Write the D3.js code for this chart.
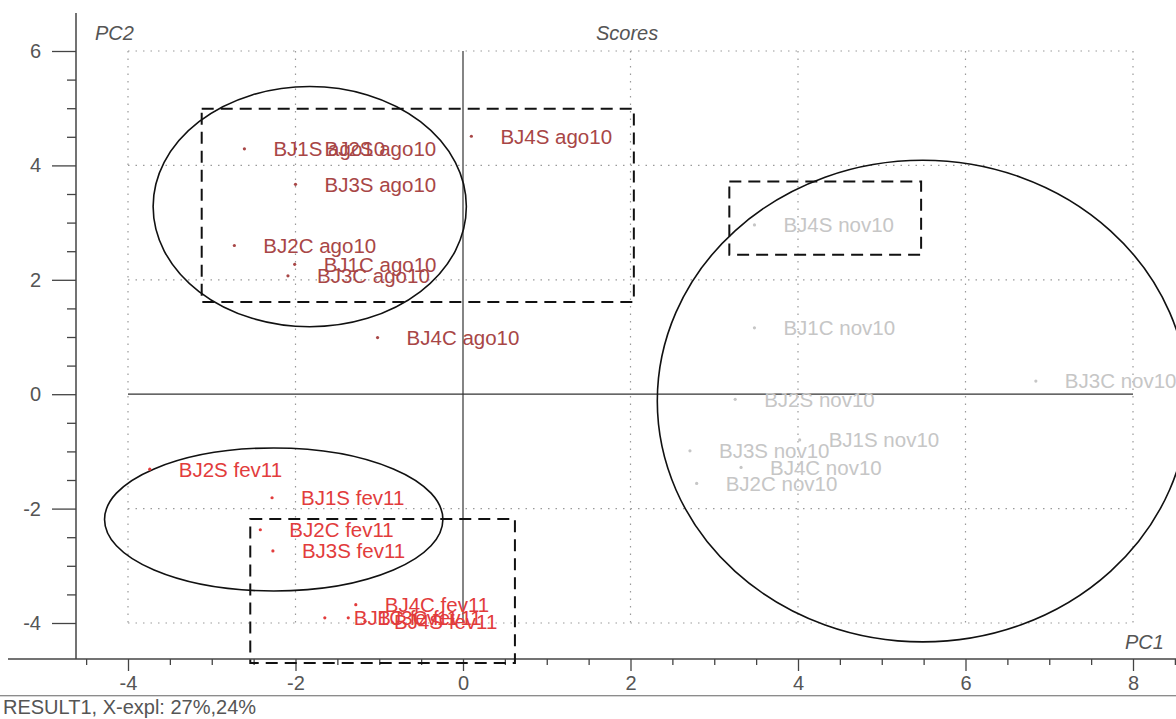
<!DOCTYPE html>
<html>
<head>
<meta charset="utf-8">
<script src="https://cdn.jsdelivr.net/npm/d3@7"></script>
<style>
  html, body { margin: 0; padding: 0; background: #fff; }
  svg { display: block; font-family: "Liberation Sans", Arial, sans-serif; }
</style>
</head>
<body>
<svg id="chart" width="1176" height="719"></svg>
<script>
// ---------------- data ----------------
const ago10Names = ["BJ1S ago10","BJ2S ago10","BJ3S ago10","BJ2C ago10","BJ1C ago10","BJ3C ago10","BJ4C ago10","BJ4S ago10"];
const ago10X     = [-2.61, -2.00, -2.00, -2.73, -2.01, -2.09, -1.02, 0.10];
const ago10Y     = [ 4.29,  4.29,  3.67,  2.60,  2.27,  2.07,  0.99, 4.51];

const nov10Names = ["BJ4S nov10","BJ1C nov10","BJ3C nov10","BJ2S nov10","BJ1S nov10","BJ3S nov10","BJ4C nov10","BJ2C nov10"];
const nov10X     = [3.48, 3.48, 6.84, 3.25, 4.02, 2.71, 3.32, 2.79];
const nov10Y     = [2.96, 1.16, 0.23, -0.09, -0.80, -0.99, -1.28, -1.56];

const fev11Names = ["BJ2S fev11","BJ1S fev11","BJ2C fev11","BJ3S fev11","BJ1C fev11","BJ3C fev11","BJ4C fev11","BJ4S fev11"];
const fev11X     = [-3.74, -2.28, -2.42, -2.27, -1.65, -1.37, -1.28, -1.17];
const fev11Y     = [-1.31, -1.81, -2.37, -2.74, -3.91, -3.91, -3.68, -3.97];

const xTickValues = [-4, -2, 0, 2, 4, 6, 8];
const yTickValues = [-4, -2, 0, 2, 4, 6];
const xGridValues = [-4, -2, 2, 4, 6, 8];
const yGridValues = [-4, -2, 2, 4, 6];

// annotation shapes (data units)
const ellipseCX = [-1.83, -2.26, 5.49];
const ellipseCY = [ 3.28, -2.19, -0.12];
const ellipseRX = [ 1.87,  2.02, 3.17];
const ellipseRY = [ 2.10,  1.25, 4.21];
const boxX0 = [-3.12, 3.18, -2.54];
const boxX1 = [ 2.04, 5.47,  0.62];
const boxY0 = [ 1.61, 2.44, -4.70];
const boxY1 = [ 4.99, 3.72, -2.18];

// ---------------- drawing ----------------
const svg = d3.select("#chart");
const x = d3.scaleLinear().domain([-4, 8]).range([128, 1133]);
const y = d3.scaleLinear().domain([-4, 6]).range([623, 51]);
const axisY = 659, axisX = 76;
const fmt = d => String(d);

// grid (dotted)
const grid = svg.append("g");
grid.selectAll("line.h").data(yGridValues).join("line")
  .attr("x1", x(-4)).attr("x2", x(8))
  .attr("y1", d => y(d)).attr("y2", d => y(d))
  .attr("stroke", "#9a9a9a").attr("stroke-width", 1.2).attr("stroke-dasharray", "1.5,6");
grid.selectAll("line.v").data(xGridValues).join("line")
  .attr("y1", y(6)).attr("y2", y(-4))
  .attr("x1", d => x(d)).attr("x2", d => x(d))
  .attr("stroke", "#9a9a9a").attr("stroke-width", 1.2).attr("stroke-dasharray", "1.5,6");

// zero lines
svg.append("line").attr("x1", x(-4)).attr("x2", x(8)).attr("y1", y(0)).attr("y2", y(0))
  .attr("stroke", "#333").attr("stroke-width", 1.2);
svg.append("line").attr("x1", x(0)).attr("x2", x(0)).attr("y1", y(6)).attr("y2", y(-4))
  .attr("stroke", "#333").attr("stroke-width", 1.2);

// axes
const yMinor = d3.range(-4, 6.01, 0.5).filter(v => Math.abs(v % 2) > 0.01);
const xMinor = d3.range(-4.5, 8.6, 0.5).filter(v => Math.abs(v % 2) > 0.01);

const gy = svg.append("g").attr("transform", `translate(${axisX},0)`)
  .call(d3.axisLeft(y).tickValues(yTickValues).tickSize(24).tickPadding(11).tickFormat(fmt));
const gyMinor = svg.append("g").attr("transform", `translate(${axisX},0)`)
  .call(d3.axisLeft(y).tickValues(yMinor).tickSize(9).tickFormat(""));
const gx = svg.append("g").attr("transform", `translate(0,${axisY})`)
  .call(d3.axisBottom(x).tickValues(xTickValues).tickSize(12).tickPadding(5).tickFormat(fmt));
const gxMinor = svg.append("g").attr("transform", `translate(0,${axisY})`)
  .call(d3.axisBottom(x).tickValues(xMinor).tickSize(6).tickFormat(""));
[gy, gyMinor, gx, gxMinor].forEach(g => {
  g.select(".domain").remove();
  g.selectAll(".tick line").attr("stroke", "#444").attr("stroke-width", 1.3);
  g.selectAll("text").attr("fill", "#555").attr("font-size", 20).attr("font-family", "Liberation Sans, Arial, sans-serif");
});
// axis lines
svg.append("line").attr("x1", axisX).attr("x2", axisX).attr("y1", 13).attr("y2", axisY)
  .attr("stroke", "#444").attr("stroke-width", 1.5);
svg.append("line").attr("x1", 8).attr("x2", 1176).attr("y1", axisY).attr("y2", axisY)
  .attr("stroke", "#444").attr("stroke-width", 1.5);
// bottom separator
svg.append("line").attr("x1", 0).attr("x2", 1176).attr("y1", 695.5).attr("y2", 695.5)
  .attr("stroke", "#8c8c8c").attr("stroke-width", 1);
svg.append("line").attr("x1", 0).attr("x2", 1176).attr("y1", 696.5).attr("y2", 696.5)
  .attr("stroke", "#d6d6d6").attr("stroke-width", 1);

// titles
svg.append("text").attr("x", 95).attr("y", 40).text("PC2")
  .attr("font-style", "italic").attr("font-size", 20).attr("fill", "#555");
svg.append("text").attr("x", 596).attr("y", 40).text("Scores")
  .attr("font-style", "italic").attr("font-size", 20).attr("fill", "#555");
svg.append("text").attr("x", 1125).attr("y", 649).text("PC1")
  .attr("font-style", "italic").attr("font-size", 20).attr("fill", "#555");
svg.append("text").attr("x", 3).attr("y", 714).text("RESULT1, X-expl: 27%,24%")
  .attr("font-size", 20).attr("fill", "#555");

// ellipses
const ellipses = d3.range(ellipseCX.length);
svg.append("g").selectAll("ellipse").data(ellipses).join("ellipse")
  .attr("cx", i => x(ellipseCX[i])).attr("cy", i => y(ellipseCY[i]))
  .attr("rx", i => x(ellipseRX[i]) - x(0)).attr("ry", i => y(0) - y(ellipseRY[i]))
  .attr("fill", "none").attr("stroke", "#111").attr("stroke-width", 1.6);

// dashed boxes
const boxes = d3.range(boxX0.length);
svg.append("g").selectAll("rect").data(boxes).join("rect")
  .attr("x", i => x(boxX0[i])).attr("y", i => y(boxY1[i]))
  .attr("width", i => x(boxX1[i]) - x(boxX0[i])).attr("height", i => y(boxY0[i]) - y(boxY1[i]))
  .attr("fill", "none").attr("stroke", "#111").attr("stroke-width", 2).attr("stroke-dasharray", "12,7");

// points + labels
function drawGroup(names, xs, ys, color) {
  const idx = d3.range(names.length);
  const g = svg.append("g");
  g.selectAll("circle").data(idx).join("circle")
    .attr("cx", i => x(xs[i])).attr("cy", i => y(ys[i])).attr("r", 1.6).attr("fill", color);
  g.selectAll("text").data(idx).join("text")
    .attr("x", i => x(xs[i]) + 29).attr("y", i => y(ys[i])).attr("dy", "0.36em")
    .attr("font-size", 20.5).attr("fill", color).text(i => names[i]);
}
drawGroup(nov10Names, nov10X, nov10Y, "#c6c6c6");
drawGroup(ago10Names, ago10X, ago10Y, "#a84646");
drawGroup(fev11Names, fev11X, fev11Y, "#e23c3c");
</script>
</body>
</html>
